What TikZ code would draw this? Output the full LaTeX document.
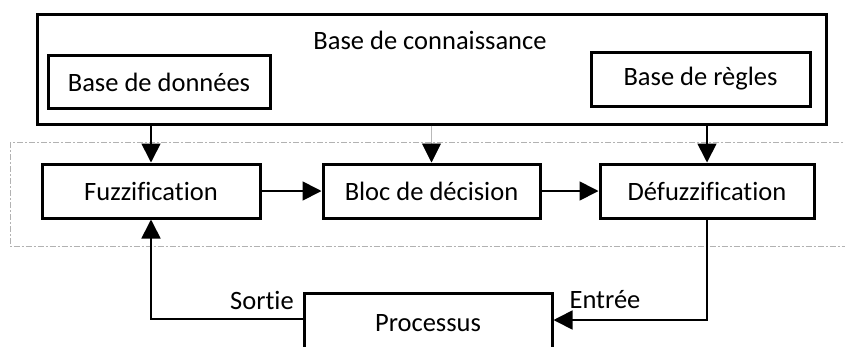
\documentclass[tikz,border=0pt]{standalone}
\usepackage{fontspec}
\setmainfont[Ligatures=NoCommon]{Carlito}
\usetikzlibrary{arrows.meta}
\begin{document}
\begin{tikzpicture}[x=1pt,y=-1pt,
  font=\fontsize{26.5}{30}\selectfont,
  box/.style={draw, line width=3pt, inner sep=0pt},
  arr/.style={line width=1.7pt, -{Triangle[length=19pt,width=19pt]}},
  lbl/.style={inner sep=0pt}]
\useasboundingbox (0,0) rectangle (845,346);
\clip (0,0) rectangle (845,346);
% dashed region
\draw[gray!60, line width=1pt, dash pattern=on 6pt off 2pt on 2pt off 2pt] (10,142) rectangle (860,246.5);
% knowledge base
\node[box, minimum width=789pt, minimum height=110pt] (kb) at (431.5,69) {};
\node[lbl] (kbt) at (430,40) {Base de connaissance};
\node[box, minimum width=222pt, minimum height=53pt] (bdd) at (159,82) {Base de données};
\node[box, minimum width=219pt, minimum height=54pt] (bdr) at (700.5,79) {Base de règles};
% processing blocks
\node[box, minimum width=218pt, minimum height=54pt] (fuzz) at (151,191) {Fuzzification};
\node[box, minimum width=217pt, minimum height=54pt] (bloc) at (431.5,191) {Bloc de décision};
\node[box, minimum width=214pt, minimum height=54pt] (defuzz) at (707,191) {Défuzzification};
\node[box, minimum width=248pt, minimum height=60pt] (proc) at (428,323) {Processus};
% arrows from knowledge base
\draw[arr] (kb.south -| fuzz.north) -- (fuzz.north);
\draw[line width=0.9pt, gray!55, -{Triangle[length=19pt,width=19pt,color=black]}] (kb.south -| bloc.north) -- (bloc.north);
\draw[arr] (kb.south -| defuzz.north) -- (defuzz.north);
% chain
\draw[arr] (fuzz.east) -- (bloc.west);
\draw[arr] (bloc.east) -- (defuzz.west);
% feedback
\draw[arr] (defuzz.south) |- ([yshift=3pt]proc.east);
\draw[arr] ([yshift=4pt]proc.west) -| (fuzz.south);
\node[lbl] (entree) at (605,300) {Entrée};
\node[lbl] (sortie) at (262,300) {Sortie};
\end{tikzpicture}
\end{document}
